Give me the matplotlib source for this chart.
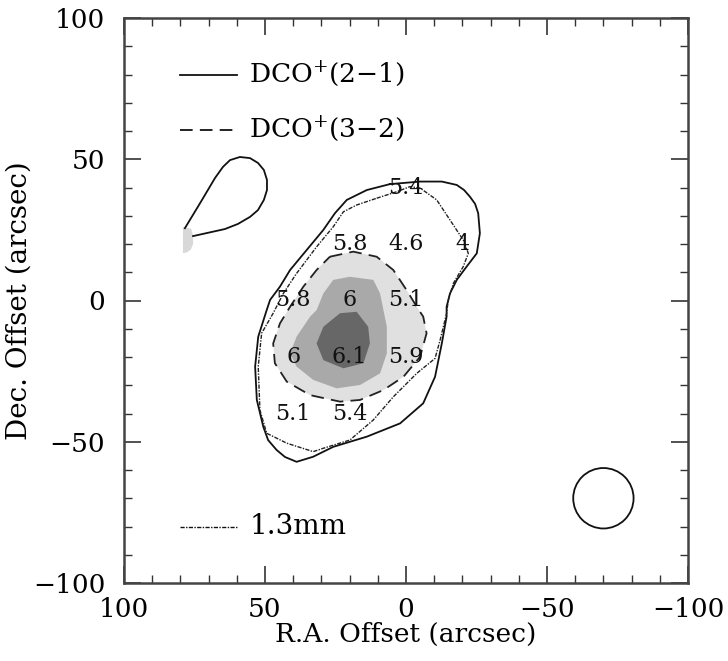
import matplotlib
matplotlib.use("Agg")
import matplotlib.pyplot as plt
from matplotlib.patches import Circle
from matplotlib.ticker import MultipleLocator

plt.rcParams['font.family'] = ['DejaVu Serif']
plt.rcParams['mathtext.fontset'] = 'dejavuserif'

# DCO+(2-1) main contour (solid), arcsec offsets
solid_x = [5.7, -5.0, -12.7, -18.0, -20.6, -22.7, -24.5, -25.6, -26.2, -25.1, -21.5, -18.0, -15.6, -14.4,
           -14.4, -12.7, -10.3, -6.1, 2.1, 13.9, 25.8, 32.9, 38.8, 42.9, 45.9, 48.9, 50.6, 52.9, 53.5,
           52.4, 49.4, 48.2, 44.7, 41.1, 35.2, 29.3, 25.2, 21.0, 13.9, 5.7]
solid_y = [41.2, 42.1, 42.1, 40.9, 39.1, 36.7, 34.2, 30.9, 23.8, 16.7, 12.0, 7.3, 2.5, -2.2,
           -5.7, -15.2, -27.0, -36.4, -43.5, -48.2, -51.8, -55.3, -57.1, -55.4, -52.9, -49.4, -44.7, -35.2, -23.4,
           -12.8, -3.4, 0.2, 4.9, 10.8, 17.9, 25.0, 30.9, 35.6, 39.1, 41.2]

# DCO+(2-1) secondary teardrop contour (solid, open at the map edge)
tear_x = [75.5, 64.2, 59.6, 55.3, 52.5, 50.4, 49.3, 49.3, 50.4, 52.5, 55.3, 58.9, 62.4, 64.9, 67.7,
          73.0, 78.4]
tear_y = [22.8, 25.3, 27.1, 29.6, 32.0, 35.6, 39.1, 42.7, 46.2, 48.7, 50.4, 50.8, 49.7, 47.3, 43.4,
          34.5, 25.6]

# small filled patch at the map edge
patch_x = [79.1, 76.2, 75.5, 75.5, 76.3, 77.8, 79.1]
patch_y = [26.0, 25.4, 23.0, 20.0, 18.0, 17.0, 16.8]

# 1.3mm continuum contour (dotted)
mm_x = [10.4, 3.3, -1.4, -5.0, -10.9, -15.6, -20.3, -22.1, -20.3, -16.8, -15.0, -14.4, -12.1, -10.3,
        -3.8, 4.5, 11.6, 19.9, 29.3, 32.9, 42.3, 49.4, 51.8, 52.4, 51.2, 47.1, 43.5, 38.8, 31.7,
        25.8, 22.2, 17.5, 10.4]
mm_y = [36.2, 38.5, 40.3, 39.8, 35.6, 28.5, 21.4, 16.7, 12.0, 6.1, 0.2, -4.5, -14.0, -20.5,
        -25.8, -34.1, -42.3, -49.4, -52.3, -53.5, -50.5, -47.0, -38.8, -23.4, -11.6, -4.5, 2.5, 9.6, 19.0,
        26.1, 31.4, 33.8, 36.2]

# DCO+(3-2) contours: lowest (dashed outline, light fill), middle, highest
c32_low_x = [27.0, 18.7, 10.4, 4.5, -0.2, -3.8, -6.1, -7.3, -5.0, 0.9, 8.0, 16.3, 23.4, 34.0,
             42.3, 46.5, 47.1, 44.7, 41.1, 36.4, 31.7, 27.0]
c32_low_y = [15.5, 17.3, 15.5, 10.8, 3.7, -2.2, -5.7, -11.6, -19.9, -27.0, -31.7, -35.2, -35.8, -33.5,
             -28.7, -22.2, -15.2, -8.1, -2.2, 4.9, 10.8, 15.5]
c32_mid_x = [19.9, 11.6, 9.2, 8.0, 6.8, 6.8, 9.2, 16.3, 24.6, 32.9, 38.8, 41.1, 38.8, 34.0, 31.7,
             29.3, 25.8]
c32_mid_y = [8.4, 7.3, 2.5, -3.4, -9.3, -18.7, -25.8, -29.9, -31.1, -28.1, -23.4, -18.7, -12.8, -5.7,
             -3.4, 2.5, 7.3]
c32_high_x = [17.5, 13.4, 12.8, 15.1, 22.2, 29.3, 31.7, 29.3, 23.4]
c32_high_y = [-4.0, -9.3, -15.2, -22.2, -24.0, -21.1, -15.2, -9.3, -4.5]

# value labels on the grid
lab_x = [0, 20, 0, -20, 40, 20, 0, 40, 20, 0, 40, 20]
lab_y = [40, 20, 20, 20, 0, 0, 0, -20, -20, -20, -40, -40]
lab_t = ["5.4", "5.8", "4.6", "4", "5.8", "6", "5.1", "6", "6.1", "5.9", "5.1", "5.4"]

# beam
beam_x, beam_y, beam_r = -70.0, -70.0, 10.7

fig = plt.figure(figsize=(7.28, 6.61), dpi=100)
ax = fig.add_axes([124/728, 1-583/661, 564/728, 565/661])

ax.fill(c32_low_x, c32_low_y, color='#e0e0e0', lw=0, zorder=1)
ax.fill(c32_mid_x, c32_mid_y, color='#a9a9a9', lw=0, zorder=2)
ax.fill(c32_high_x, c32_high_y, color='#676767', lw=0, zorder=3)
ax.plot(c32_low_x, c32_low_y, color='#222222', lw=1.3, ls=(0, (7, 4)), zorder=4)

ax.plot(solid_x, solid_y, color='#111111', lw=1.3, zorder=5, solid_joinstyle='round')
ax.plot(tear_x, tear_y, color='#111111', lw=1.3, zorder=5, solid_joinstyle='round')
ax.fill(patch_x, patch_y, color='#d8d8d8', lw=0, zorder=4)
ax.plot(mm_x, mm_y, color='#222222', lw=1.0, ls=(0, (3, 1, 1, 1)), zorder=5)

for x, y, t in zip(lab_x, lab_y, lab_t):
    ax.text(x, y, t, ha='center', va='center', fontsize=16, color='#111111', zorder=6)

ax.add_patch(Circle((beam_x, beam_y), beam_r, fill=False, ec='#111111', lw=1.3, zorder=5))

# legend entries
ax.plot([80, 60], [80, 80], color='#111111', lw=1.3)
ax.text(55.5, 80, "DCO$^{+}$(2$-$1)", ha='left', va='center', fontsize=19)
ax.plot([80, 60], [60.5, 60.5], color='#111111', lw=1.3, ls=(0, (7, 4)))
ax.text(55.5, 60.5, "DCO$^{+}$(3$-$2)", ha='left', va='center', fontsize=19)
ax.plot([80, 60], [-80, -80], color='#111111', lw=1.0, ls=(0, (3, 1, 1, 1)))
ax.text(55.5, -80, "1.3mm", ha='left', va='center', fontsize=20)

ax.set_xlim(100, -100)
ax.set_ylim(-100, 100)
ax.xaxis.set_major_locator(MultipleLocator(50))
ax.yaxis.set_major_locator(MultipleLocator(50))
ax.xaxis.set_minor_locator(MultipleLocator(10))
ax.yaxis.set_minor_locator(MultipleLocator(10))
ax.tick_params(which='both', direction='in', top=True, right=True, labelsize=19, color='#333333')
ax.tick_params(which='major', length=12, width=1.2)
ax.tick_params(axis='y', which='major', pad=13.5)
ax.tick_params(axis='x', which='major', pad=10)
ax.tick_params(which='minor', length=6, width=1.0)
for s in ax.spines.values():
    s.set_linewidth(1.8)
    s.set_color('#444444')

ax.set_xlabel("R.A. Offset (arcsec)", fontsize=19, labelpad=0)
ax.set_ylabel("Dec. Offset (arcsec)", fontsize=20, labelpad=0)

fig.savefig("out.png", dpi=100)
